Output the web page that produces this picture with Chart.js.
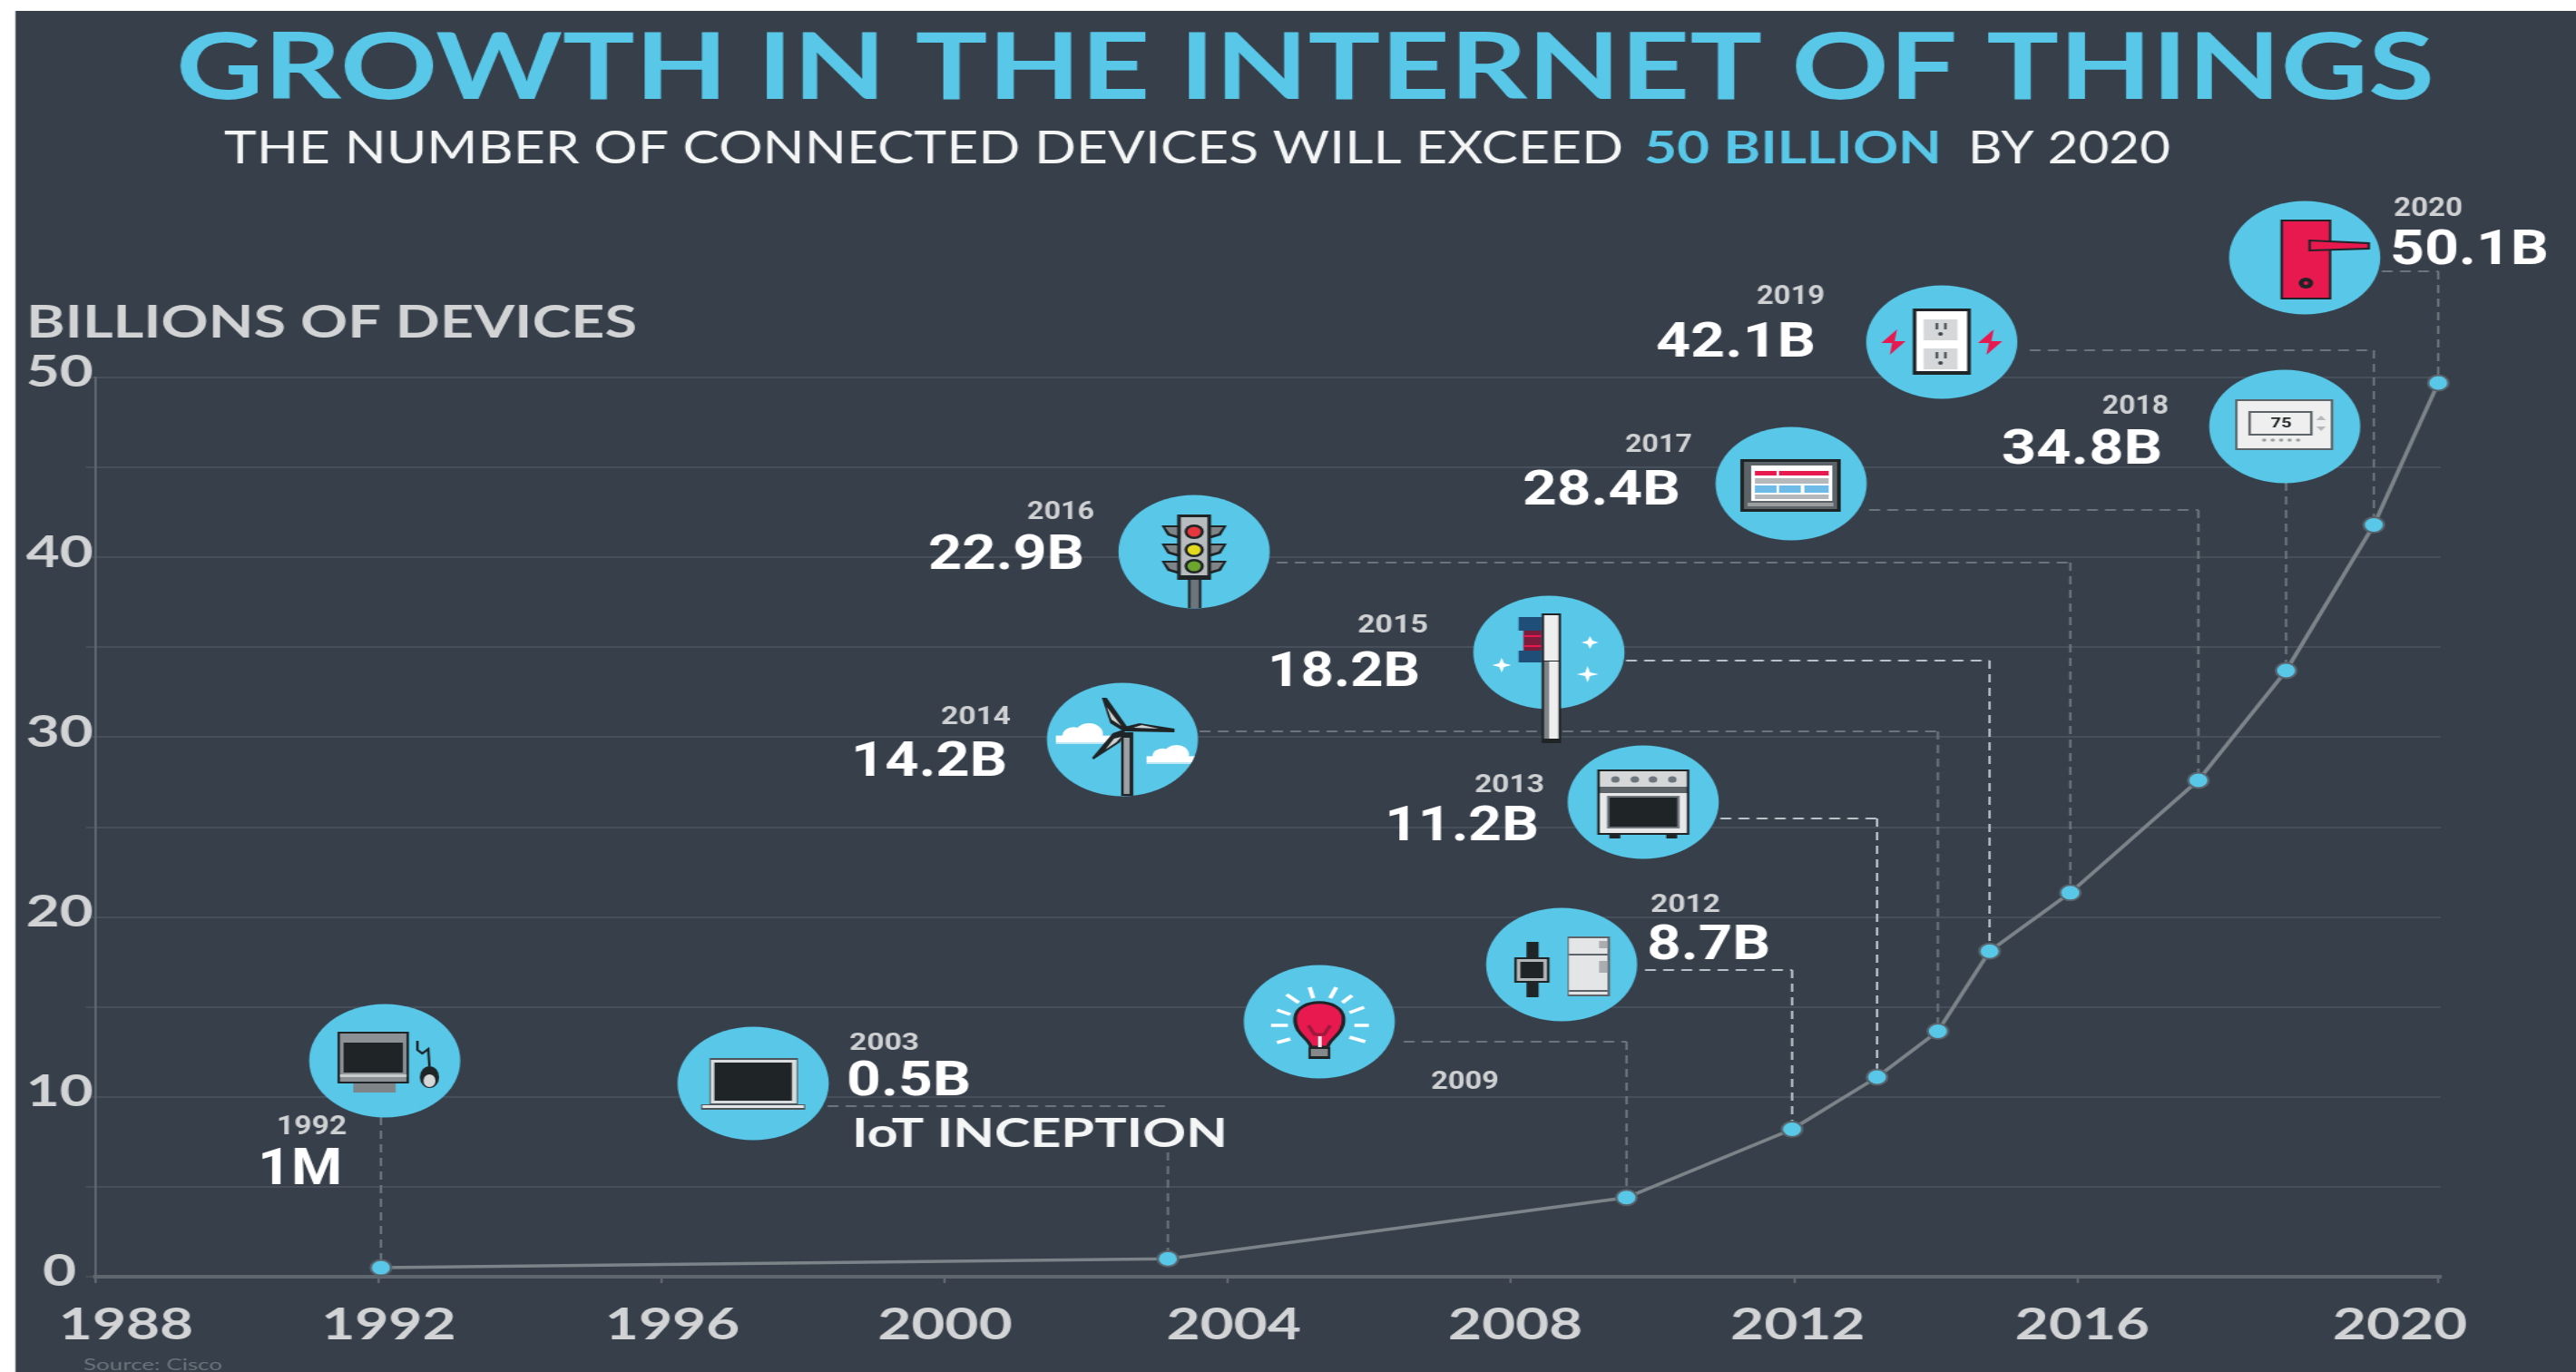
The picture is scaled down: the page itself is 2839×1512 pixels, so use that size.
<!DOCTYPE html>
<html>
<head>
<meta charset="utf-8">
<title>Growth in the Internet of Things</title>
<script src="https://cdn.jsdelivr.net/npm/chart.js@4"></script>
<style>
  html, body { margin: 0; background: #fff; overflow: hidden; }
  /* the reference is a stretched picture, so the canvas gets stretched the same way */
  #iot-chart { position: absolute; left: 0; top: 0; transform-origin: 0 0; transform: scaleX(1.33286); }
</style>
</head>
<body>
<canvas id="iot-chart" width="2130" height="1512"></canvas>
<script>
// Data
const pointYears = [1992.03, 2003.15, 2009.63, 2011.97, 2013.17, 2014.03, 2014.76, 2015.9, 2017.71, 2018.95, 2020.19, 2021.1];
const pointValues = [0.5, 1.0, 4.4, 8.2, 11.1, 13.65, 18.1, 21.35, 27.6, 33.7, 41.8, 49.7];
const calloutYears = ['1992', '2003', '2009', '2012', '2013', '2014', '2015', '2016', '2017', '2018', '2019', '2020'];
const calloutValues = ['1M', '0.5B', '', '8.7B', '11.2B', '14.2B', '18.2B', '22.9B', '28.4B', '34.8B', '42.1B', '50.1B'];
const axisTickYears = [1988, 1992, 1996, 2000, 2004, 2008, 2012, 2016, 2021.1];
const tickLabels = ['1988', '1992', '1996', '2000', '2004', '2008', '2012', '2016', '2020'];
const tickLabelYears = [1988.43, 1992.14, 1996.15, 2000, 2004.08, 2008.06, 2012.05, 2016.07, 2020.56];

const K = 2839 / 2130;
const BG = '#363f4a', BLUE = '#58c7e8', RED = '#e8194f', INK = '#1f2427', GREY = '#6d757c';

// Where the callouts sit, in page pixels (x0, x1, top, bottom for the text boxes)
const calloutLayout = [
  { cx: 424, cy: 1169, stem: 1231, year: [305, 382, 1229, 1250], value: [284, 377, 1265, 1305] },
  { cx: 830, cy: 1194, leadY: 1219, leadX: 912, stem: 1270, year: [936, 1013, 1138, 1157], value: [933, 1070, 1169, 1207] },
  { cx: 1454, cy: 1126, leadY: 1148, leadX: 1547, year: [1577, 1652, 1180, 1200] },
  { cx: 1721, cy: 1063, leadY: 1069, leadX: 1813, year: [1819, 1896, 985, 1005], value: [1815, 1951, 1019, 1057], bright: true },
  { cx: 1811, cy: 884, leadY: 902, leadX: 1896, year: [1625, 1702, 853, 873], value: [1526, 1696, 888, 926], bright: true },
  { cx: 1237, cy: 815, leadY: 806, leadX: 1322, year: [1037, 1114, 778, 798], value: [938, 1110, 816, 855] },
  { cx: 1707, cy: 719, leadY: 728, leadX: 1792, year: [1496, 1574, 677, 697], value: [1397, 1565, 717, 756], bright: true },
  { cx: 1316, cy: 608, leadY: 620, leadX: 1407, year: [1132, 1206, 552, 572], value: [1023, 1195, 588, 627] },
  { cx: 1974, cy: 533, leadY: 562, leadX: 2060, year: [1791, 1865, 478, 498], value: [1678, 1852, 517, 556] },
  { cx: 2518, cy: 470, stem: 532, year: [2317, 2390, 435, 456], value: [2206, 2383, 473, 511] },
  { cx: 2140, cy: 377, leadY: 386, leadX: 2237, year: [1936, 2011, 314, 335], value: [1825, 2001, 354, 393] },
  { cx: 2540, cy: 284, leadY: 299, leadX: 2625, year: [2638, 2714, 217, 238], value: [2634, 2809, 252, 291] }
];

// Text squeezed into a box so it spans the same width as in the picture
function boxText(ctx, text, box, color, weight, family) {
  const [x0, x1, top, bottom] = box;
  ctx.save();
  ctx.font = `${weight} ${(bottom - top) / 0.72}px ${family}`;
  ctx.textBaseline = 'alphabetic';
  ctx.textAlign = 'left';
  ctx.fillStyle = color;
  const w = ctx.measureText(text).width;
  ctx.translate(x0 / K, bottom);
  ctx.scale((x1 - x0) / K / w, 1);
  ctx.fillText(text, 0, 0);
  ctx.restore();
}

function rect(ctx, color, x, y, w, h) {
  ctx.fillStyle = color;
  ctx.fillRect(x, y, w, h);
}

function disc(ctx, color, x, y, r) {
  ctx.fillStyle = color;
  ctx.beginPath();
  ctx.arc(x, y, r, 0, Math.PI * 2);
  ctx.fill();
}

function poly(ctx, color, pts) {
  ctx.fillStyle = color;
  ctx.beginPath();
  pts.forEach((p, i) => i ? ctx.lineTo(p[0], p[1]) : ctx.moveTo(p[0], p[1]));
  ctx.closePath();
  ctx.fill();
}

function cloud(ctx, x, y, s) {
  disc(ctx, '#fff', x + 14 * s, y - 7 * s, 9 * s);
  disc(ctx, '#fff', x + 26 * s, y - 9 * s, 11 * s);
  rect(ctx, '#fff', x, y - 7 * s, 44 * s, 7 * s);
  rect(ctx, '#bfe8f5', x, y, 44 * s, 2);
}

function sparkle(ctx, x, y, r) {
  poly(ctx, '#fff', [[x - r, y], [x - 2, y - 2], [x, y - r], [x + 2, y - 2], [x + r, y], [x + 2, y + 2], [x, y + r], [x - 2, y + 2]]);
}

// Little pictures inside the blue discs, centred on 0,0
const icons = {
  1992(c) {
    rect(c, INK, -39, -32, 59, 57);
    rect(c, '#8b9195', -37, -30, 55, 53);
    rect(c, INK, -34, -20, 49, 33);
    rect(c, '#c9cccd', -37, 15, 55, 3);
    rect(c, '#7e8488', -26, 25, 35, 10);
    c.strokeStyle = INK; c.lineWidth = 2;
    c.beginPath(); c.moveTo(27, -22); c.lineTo(27, -12); c.lineTo(31, -8); c.lineTo(36, -13); c.lineTo(37, 6); c.stroke();
    c.fillStyle = INK; c.beginPath(); c.ellipse(37, 18, 8, 12, 0, 0, Math.PI * 2); c.fill();
    c.fillStyle = '#d5d7d8'; c.beginPath(); c.ellipse(37, 22, 5, 7, 0, 0, Math.PI * 2); c.fill();
  },
  2003(c) {
    rect(c, '#4d555b', -36, -28, 73, 51);
    rect(c, '#d9dbdc', -35, -26, 71, 48);
    rect(c, INK, -32, -23, 64, 42);
    rect(c, '#4d555b', -43, 23, 86, 6);
    rect(c, '#e4e6e7', -42, 24, 84, 3);
  },
  2009(c) {
    const rays = [[-8, -38, -5, -26], [14, -38, 9, -26], [-27, -30, -17, -21], [27, -29, 19, -21], [-35, -13, -24, -8],
      [37, -16, 25, -10], [-40, 4, -26, 4], [29, 4, 41, 4], [-35, 23, -24, 19], [25, 17, 38, 22]];
    c.strokeStyle = '#fff'; c.lineWidth = 3.5;
    rays.forEach(r => { c.beginPath(); c.moveTo(r[0], r[1]); c.lineTo(r[2], r[3]); c.stroke(); });
    c.fillStyle = RED; c.strokeStyle = INK; c.lineWidth = 3;
    c.beginPath();
    c.moveTo(-7, 28);
    c.bezierCurveTo(-8, 18, -21, 14, -20, -4);
    c.bezierCurveTo(-19, -27, 19, -27, 20, -4);
    c.bezierCurveTo(21, 14, 8, 18, 7, 28);
    c.closePath(); c.fill(); c.stroke();
    c.strokeStyle = '#9b1a3c'; c.lineWidth = 3;
    c.beginPath(); c.moveTo(-9, 4); c.lineTo(-4, 14); c.lineTo(4, 14); c.lineTo(9, 4); c.stroke();
    rect(c, '#eee', -1, 16, 3, 12);
    rect(c, INK, -9, 28, 18, 13);
    rect(c, '#85898c', -7, 30, 14, 8);
  },
  2012(c) {
    rect(c, INK, -29, -25, 10, 61);
    rect(c, INK, -39, -8, 29, 28);
    rect(c, '#b3b7b9', -37, -6, 25, 24);
    rect(c, INK, -34, -3, 19, 18);
    rect(c, '#5c6469', 5, -31, 35, 66);
    rect(c, '#e3e5e6', 6, -29, 32, 62);
    rect(c, '#5c6469', 6, -12, 32, 2);
    rect(c, '#5c6469', 6, 28, 32, 2);
    rect(c, '#a9adb0', 31, -26, 7, 8);
    rect(c, '#a9adb0', 31, -4, 7, 13);
  },
  2013(c) {
    rect(c, INK, -38, -36, 76, 72);
    rect(c, '#d5d7d8', -36, -34, 72, 17);
    rect(c, '#5c6469', -36, -17, 72, 7);
    rect(c, '#e6e8e9', -36, -10, 72, 44);
    [-23, -7, 8, 24].forEach(x => disc(c, '#6d757c', x, -25, 3.5));
    rect(c, '#6d757c', -30, -7, 60, 36);
    rect(c, INK, -28, -5, 56, 32);
    rect(c, INK, -28, 36, 9, 4);
    rect(c, INK, 19, 36, 9, 4);
  },
  2014(c) {
    // clouds and tower stop at the edge of the disc
    c.save();
    c.beginPath();
    c.arc(0, 0, 62.5, 0, Math.PI * 2);
    c.clip();
    cloud(c, -55, 3, 1.05);
    cloud(c, 20, 25, 0.95);
    rect(c, INK, -1, -8, 10, 70);
    rect(c, '#9aa0a3', 1, -2, 5, 62);
    c.restore();
    poly(c, INK, [[-17, -46], [-13, -46], [4, -14], [1, -9], [-10, -18]]);
    poly(c, '#cfd2d3', [[-13, -36], [-1, -15], [-9, -22]]);
    poly(c, INK, [[2, -14], [14, -18], [43, -12], [43, -8], [2, -9]]);
    poly(c, '#cfd2d3', [[9, -13], [16, -16], [30, -12]]);
    poly(c, INK, [[3, -12], [-2, 3], [-24, 22], [-25, 20], [-8, -7]]);
    poly(c, '#cfd2d3', [[-1, -3], [-5, 3], [-14, 11], [-7, -1]]);
  },
  2015(c) {
    rect(c, '#1f4e79', -25, -39, 19, 15);
    rect(c, '#1f4e79', -25, -2, 19, 13);
    rect(c, '#7c1c3d', -21, -24, 15, 22);
    rect(c, RED, -21, -19, 15, 2);
    rect(c, RED, -21, -8, 15, 2);
    rect(c, INK, -6, -43, 16, 143);
    rect(c, '#eeeeee', -4, -41, 12, 50);
    rect(c, '#7e8488', -4, 10, 4, 85);
    rect(c, '#eeeeee', 0, 10, 8, 85);
    sparkle(c, 34, -11, 7);
    sparkle(c, -39, 14, 8);
    sparkle(c, 32, 24, 9);
  },
  2016(c) {
    rect(c, INK, -5, 28, 11, 34);
    rect(c, '#6d757c', -3, 30, 7, 32);
    [-29, -9, 10].forEach(y => {
      poly(c, INK, [[-27, y], [-12, y], [-12, y + 15], [-22, y + 11]]);
      poly(c, '#7e8488', [[-24, y + 2], [-12, y + 2], [-12, y + 12], [-20, y + 9]]);
      poly(c, INK, [[27, y], [12, y], [12, y + 15], [22, y + 11]]);
      poly(c, '#7e8488', [[24, y + 2], [12, y + 2], [12, y + 12], [20, y + 9]]);
    });
    rect(c, INK, -14, -41, 28, 72);
    rect(c, '#b8bcbe', -11, -38, 22, 64);
    disc(c, INK, 0, -22, 8); disc(c, '#e6363f', 0, -22, 5.5);
    disc(c, INK, 0, -2, 8); disc(c, '#e3d91f', 0, -2, 5.5);
    disc(c, INK, 0, 16, 8); disc(c, '#6da62e', 0, 16, 5.5);
  },
  2017(c) {
    rect(c, INK, -42, -27, 83, 58);
    rect(c, '#5c6469', -39, -24, 77, 52);
    rect(c, '#fff', -33, -20, 67, 39);
    rect(c, RED, -30, -14, 18, 5);
    rect(c, RED, -10, -14, 41, 5);
    rect(c, '#b5b8ba', -30, -6, 61, 6);
    rect(c, '#6fbbe8', -30, 2, 18, 8);
    rect(c, '#6fbbe8', -10, 2, 18, 8);
    rect(c, '#6fbbe8', 11, 2, 20, 8);
    rect(c, '#b5b8ba', -30, 12, 61, 5);
    rect(c, '#9a9ea1', -36, 21, 71, 4);
  },
  2018(c) {
    rect(c, '#5c6469', -41, -30, 81, 56);
    rect(c, '#efefef', -39, -28, 77, 52);
    rect(c, '#5c6469', -30, -17, 53, 27);
    rect(c, '#efefef', -28, -15, 49, 23);
    c.fillStyle = INK; c.font = 'bold 15px Roboto'; c.textAlign = 'center'; c.textBaseline = 'middle';
    c.fillText('75', -3, -3);
    [-14, -7, 0, 7, 14].forEach(x => disc(c, '#9a9ea1', x - 3, 15, 1.8));
    poly(c, '#b5b8ba', [[26, -7], [34, -7], [30, -12]]);
    poly(c, '#b5b8ba', [[26, 0], [34, 0], [30, 5]]);
  },
  2019(c) {
    rect(c, INK, -24, -37, 48, 73);
    rect(c, '#fff', -21, -34, 42, 66);
    [-25, 7].forEach(y => {
      rect(c, '#d5d7d8', -15, y, 28, 23);
      rect(c, '#40474c', -5, y + 4, 2, 7);
      rect(c, '#40474c', 2, y + 4, 2, 7);
      disc(c, '#40474c', -1, y + 16, 2);
    });
    [-40, 40].forEach(x => {
      poly(c, RED, [[x + 3, -14], [x - 10, 1], [x - 1, 1], [x - 3, 14], [x + 10, -1], [x + 1, -1]]);
    });
  },
  2020(c) {
    rect(c, INK, -20, -42, 42, 88);
    rect(c, RED, -18, -40, 38, 84);
    poly(c, INK, [[3, -20], [54, -17], [54, -9], [3, -7]]);
    poly(c, RED, [[5, -18], [52, -15], [52, -11], [5, -9]]);
    disc(c, INK, 1, 28, 6);
    disc(c, RED, 1, 28, 2);
  }
};

const infographic = {
  id: 'infographic',
  beforeDraw(chart) {
    rect(chart.ctx, BG, 17 / K, 12, chart.width, chart.height);
  },
  beforeDatasetsDraw(chart) {
    // dashed leaders run from each point up to its disc
    const { ctx, scales } = chart;
    ctx.save();
    ctx.setLineDash([9, 6]);
    calloutLayout.forEach((c, i) => {
      const x = scales.x.getPixelForValue(pointYears[i]);
      const y = scales.y.getPixelForValue(pointValues[i]);
      ctx.strokeStyle = c.bright ? '#b9c2c7' : GREY;
      ctx.lineWidth = 2;
      ctx.beginPath();
      if (c.leadY) {
        ctx.moveTo(c.leadX / K, c.leadY);
        ctx.lineTo(x, c.leadY);
      }
      ctx.moveTo(x, c.stem || c.leadY);
      ctx.lineTo(x, y);
      ctx.stroke();
    });
    ctx.restore();
  },
  afterDatasetsDraw(chart) {
    const { ctx } = chart;
    const sans = 'Lato, "Liberation Sans", sans-serif';
    boxText(ctx, 'GROWTH IN THE INTERNET OF THINGS', [194, 2683, 36, 109], BLUE, 'bold', sans);
    boxText(ctx, 'THE NUMBER OF CONNECTED DEVICES WILL EXCEED', [247, 1789, 144, 180], '#f4f5f5', 'normal', sans);
    boxText(ctx, '50 BILLION', [1812, 2140, 144, 180], BLUE, 'bold', sans);
    boxText(ctx, 'BY 2020', [2169, 2392, 144, 180], '#f4f5f5', 'normal', sans);
    boxText(ctx, 'BILLIONS OF DEVICES', [29, 702, 336, 372], '#d1d3d4', 'bold', sans);
    boxText(ctx, 'IoT INCEPTION', [939, 1353, 1232, 1264], '#f4f5f5', 'bold', sans);
    boxText(ctx, 'Source: Cisco', [92, 245, 1498, 1510], '#6d757c', 'normal', sans);

    calloutLayout.forEach((c, i) => {
      const name = calloutYears[i];
      ctx.save();
      ctx.translate(c.cx / K, c.cy);
      ctx.fillStyle = BLUE;
      ctx.beginPath();
      ctx.arc(0, 0, 62.5, 0, Math.PI * 2);
      ctx.fill();
      icons[name](ctx);
      ctx.restore();
      boxText(ctx, name, c.year, '#cfd1d3', 'bold', 'Roboto, sans-serif');
      if (calloutValues[i]) boxText(ctx, calloutValues[i], c.value, '#ffffff', 'bold', 'Roboto, sans-serif');
    });
  }
};

new Chart(document.getElementById('iot-chart'), {
  type: 'line',
  data: {
    datasets: [{
      data: pointYears.map((year, i) => ({ x: year, y: pointValues[i] })),
      clip: false,
      borderColor: '#7c8489',
      borderWidth: 3.5,
      tension: 0,
      pointRadius: 8.5,
      pointBackgroundColor: BLUE,
      pointBorderColor: '#59626a',
      pointBorderWidth: 2
    }]
  },
  options: {
    responsive: false,
    animation: false,
    devicePixelRatio: 1,
    // the scale boxes below take up the left and bottom margins
    layout: { padding: { left: 0, right: (2839 - 2690) / K, top: 416, bottom: 0 } },
    plugins: { legend: { display: false }, tooltip: { enabled: false } },
    scales: {
      x: {
        type: 'linear',
        min: 1988,
        max: 2021.136,
        weight: 0,
        afterBuildTicks: scale => { scale.ticks = axisTickYears.map(value => ({ value })); },
        afterFit: scale => { scale.height = 0; },
        grid: { drawOnChartArea: false, color: '#5f666e', lineWidth: 2, tickLength: 7 },
        border: { color: '#5f666e', width: 4 },
        ticks: { display: false, autoSkip: false }
      },
      // second bottom axis, only for the labels: they sit off their tick marks in the picture
      xLabels: {
        type: 'linear',
        position: 'bottom',
        axis: 'x',
        min: 1988,
        max: 2021.136,
        weight: 1,
        afterBuildTicks: scale => { scale.ticks = tickLabelYears.map(value => ({ value })); },
        afterFit: scale => { scale.height = 1512 - 1407; },
        grid: { display: false },
        border: { display: false },
        ticks: {
          autoSkip: false,
          maxRotation: 0,
          padding: 17,
          color: '#d1d3d4',
          font: { family: 'Lato', weight: 'bold', size: 48 },
          callback: (value, index) => tickLabels[index]
        }
      },
      y: {
        min: 0,
        max: 50,
        afterFit: scale => { scale.width = 105.4 / K; },
        grid: { color: '#474f5a', lineWidth: 2, tickLength: 8 },
        border: { color: '#5f666e', width: 2 },
        ticks: {
          stepSize: 5,
          autoSkip: false,
          crossAlign: 'center',
          padding: -6,
          labelOffset: -5,
          color: '#d1d3d4',
          font: { family: 'Lato', weight: 'bold', size: 48 },
          callback: value => (value % 10 === 0 ? String(value) : '')
        }
      }
    }
  },
  plugins: [infographic]
});
</script>
</body>
</html>
